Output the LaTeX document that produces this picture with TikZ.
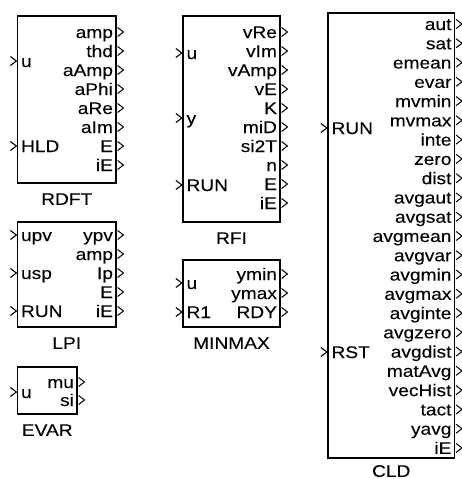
\documentclass[tikz,border=0pt]{standalone}
\usepackage{fontspec}
\setmainfont{Liberation Sans}[FakeStretch=1.14,FakeBold=0.08]
\usetikzlibrary{positioning}

\tikzset{
  blk/.style={draw, line width=1.3pt, inner sep=0pt},
  plbl/.style={inner sep=0pt, text height=12pt, text depth=0pt},
  olbl/.style={plbl, anchor=east, xshift=-3.5pt},
  ilbl/.style={plbl, anchor=west, xshift=4pt},
  oport/.pic={\draw[line width=1pt] (1,-4.5) -- (6.8,0) -- (1,4.5);},
  iport/.pic={\draw[line width=1.1pt] (-6.5,-4.5) -- (-0.5,0) -- (-6.5,4.5);},
}

\begin{document}
\begin{tikzpicture}[x=1pt,y=-1pt,font=\fontsize{16.8}{19}\selectfont]
  \useasboundingbox (0,0) rectangle (461,479);
  % blocks
  \node[blk, minimum width=98.5pt, minimum height=167pt] (rdft) at (66.75,99.5) {};
  \node[blk, minimum width=97pt, minimum height=206pt] (rfi) at (231.5,119) {};
  \node[blk, minimum width=98.5pt, minimum height=105pt] (lpi) at (66.75,274.5) {};
  \node[blk, minimum width=97pt, minimum height=67pt] (minmax) at (231.5,293.5) {};
  \node[blk, minimum width=59.5pt, minimum height=47pt] (evar) at (47.25,390.5) {};
  \node[blk, minimum width=126.5pt, minimum height=445pt] (cld) at (391.25,235.5) {};
  % block names
  \node[plbl, below=9pt of rdft] {RDFT};
  \node[plbl, below=9pt of rfi] {RFI};
  \node[plbl, below=9pt of lpi] {LPI};
  \node[plbl, below=9pt of minmax] {MINMAX};
  \node[plbl, below=9pt of evar] {EVAR};
  \node[plbl, below=6pt of cld] {CLD};
  % RDFT
  \foreach \y/\txt in {61/u, 146/HLD} {
    \node[ilbl] at (rdft.west |- 0,\y) {\txt};
    \pic at (rdft.west |- 0,\y) {iport};
  }
  \foreach \y/\txt in {32/amp, 51/thd, 70/aAmp, 89/aPhi, 108/aRe, 127/aIm, 146/E, 165/iE} {
    \node[olbl] at (rdft.east |- 0,\y) {\txt};
    \pic at (rdft.east |- 0,\y) {oport};
  }
  % RFI
  \foreach \y/\txt in {53/u, 118/y, 185/RUN} {
    \node[ilbl] at (rfi.west |- 0,\y) {\txt};
    \pic at (rfi.west |- 0,\y) {iport};
  }
  \foreach \y/\txt in {32/vRe, 51/vIm, 70/vAmp, 89/vE, 108/K, 127/miD, 146/si2T, 165/n, 184/E, 203/iE} {
    \node[olbl] at (rfi.east |- 0,\y) {\txt};
    \pic at (rfi.east |- 0,\y) {oport};
  }
  % LPI
  \foreach \y/\txt in {235/upv, 273/usp, 311/RUN} {
    \node[ilbl] at (lpi.west |- 0,\y) {\txt};
    \pic at (lpi.west |- 0,\y) {iport};
  }
  \foreach \y/\txt in {235/ypv, 254/amp, 273/Ip, 292/E, 311/iE} {
    \node[olbl] at (lpi.east |- 0,\y) {\txt};
    \pic at (lpi.east |- 0,\y) {oport};
  }
  % MINMAX
  \foreach \y/\txt in {283/u, 312/R1} {
    \node[ilbl] at (minmax.west |- 0,\y) {\txt};
    \pic at (minmax.west |- 0,\y) {iport};
  }
  \foreach \y/\txt in {274/ymin, 293/ymax, 312/RDY} {
    \node[olbl] at (minmax.east |- 0,\y) {\txt};
    \pic at (minmax.east |- 0,\y) {oport};
  }
  % EVAR
  \node[ilbl] at (evar.west |- 0,392) {u};
  \pic at (evar.west |- 0,392) {iport};
  \foreach \y/\txt in {382/mu, 400/si} {
    \node[olbl] at (evar.east |- 0,\y) {\txt};
    \pic at (evar.east |- 0,\y) {oport};
  }
  % CLD
  \foreach \y/\txt in {128/RUN, 352/RST} {
    \node[ilbl] at (cld.west |- 0,\y) {\txt};
    \pic at (cld.west |- 0,\y) {iport};
  }
  \foreach \txt [count=\i from 0] in {aut, sat, emean, evar, mvmin, mvmax, inte, zero, dist,
      avgaut, avgsat, avgmean, avgvar, avgmin, avgmax, avginte, avgzero, avgdist,
      matAvg, vecHist, tact, yavg, iE} {
    \pgfmathsetmacro\y{24+19.27*\i}
    \node[olbl] at (cld.east |- 0,\y) {\txt};
    \pic at (cld.east |- 0,\y) {oport};
  }
\end{tikzpicture}
\end{document}
